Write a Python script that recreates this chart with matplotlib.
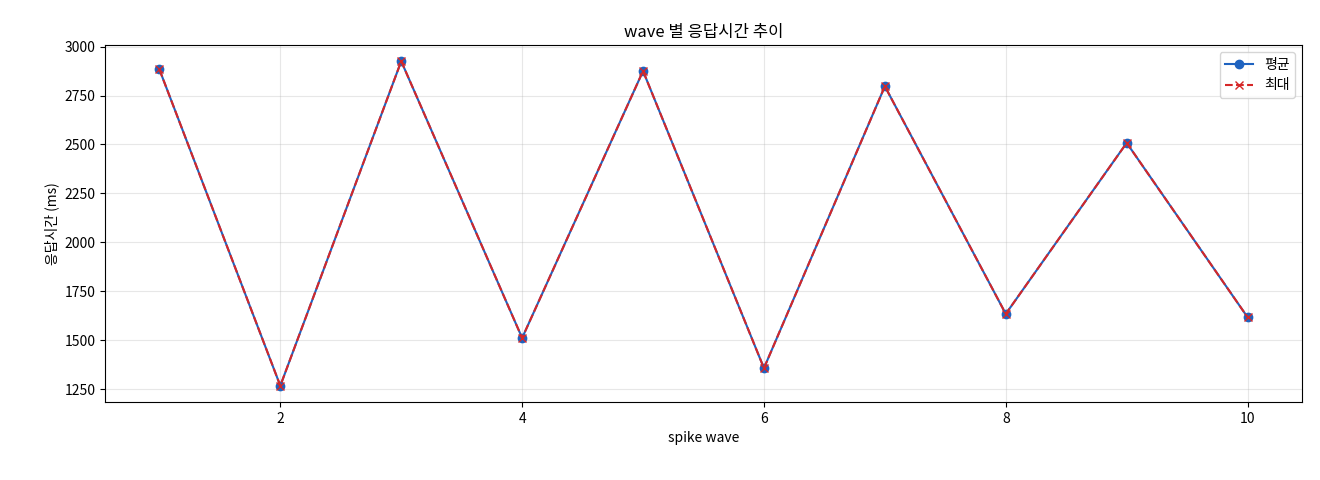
import matplotlib
matplotlib.use("Agg")
import matplotlib.pyplot as plt

plt.rcParams['font.family'] = ['Noto Sans CJK KR', 'DejaVu Sans']
plt.rcParams['axes.unicode_minus'] = False

waves = [1, 2, 3, 4, 5, 6, 7, 8, 9, 10]
avg_ms = [2883, 1268, 2925, 1512, 2875, 1358, 2797, 1635, 2508, 1618]
max_ms = [2883, 1268, 2925, 1512, 2875, 1358, 2797, 1635, 2508, 1618]

fig = plt.figure(figsize=(13.2, 4.8), dpi=100)
ax = fig.add_axes([105/1320, 1-402/480, (1302-105)/1320, (402-45)/480])
ax.plot(waves, avg_ms, marker='o', color='#1f63c0', label='평균')
ax.plot(waves, max_ms, marker='x', linestyle='--', color='#d62728', label='최대')
ax.set_title('wave 별 응답시간 추이')
ax.set_xlabel('spike wave')
ax.set_ylabel('응답시간 (ms)')
ax.grid(True, alpha=0.3)
ax.legend(loc='upper right')
fig.savefig('out.png', dpi=100)
